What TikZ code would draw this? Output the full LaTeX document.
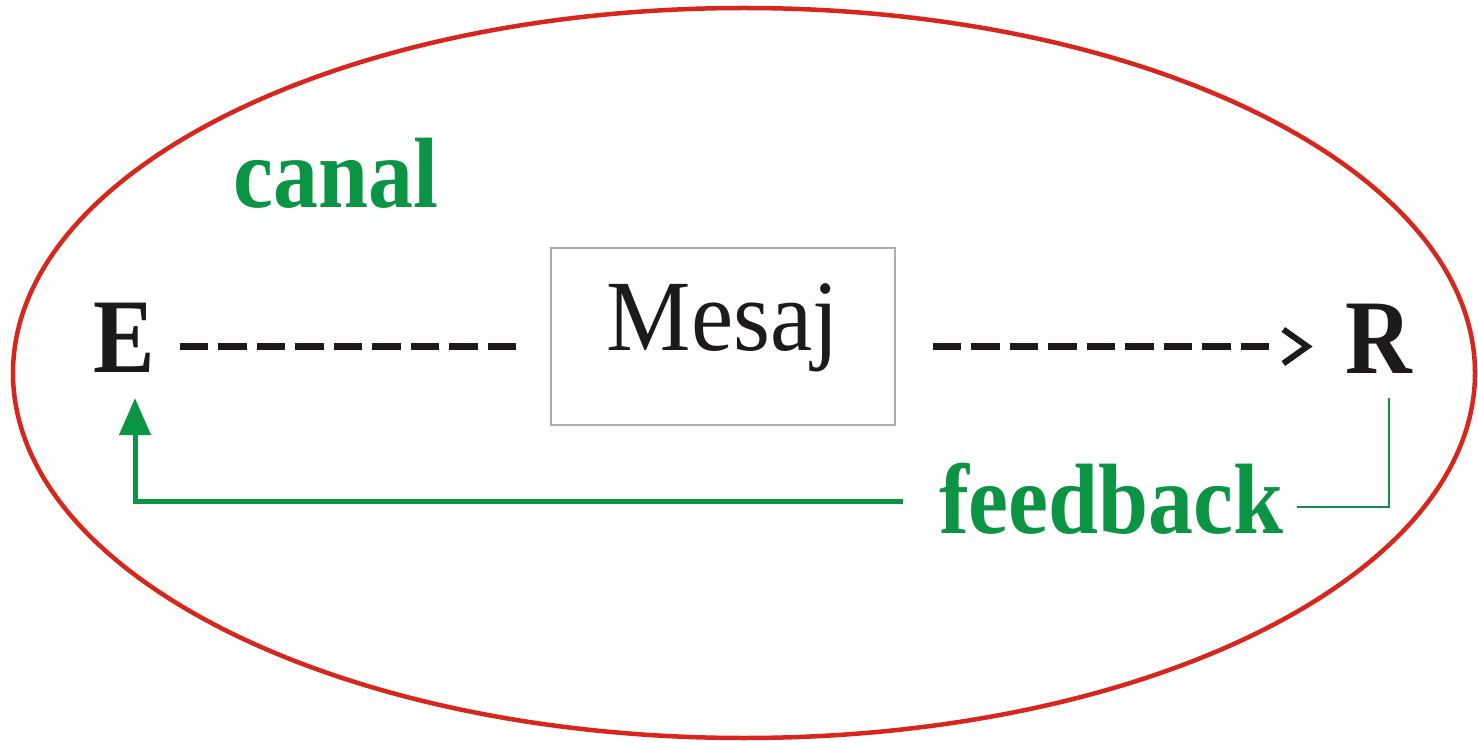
\documentclass[tikz,border=0pt]{standalone}
\usepackage{fontspec}
\setmainfont{Liberation Serif}[FakeStretch=0.94]
\newfontfamily\narrowfont{Liberation Serif}[FakeStretch=0.9]
\newfontfamily\slimfont{Liberation Serif}[FakeStretch=0.87]
\usepackage{tikz}
\usetikzlibrary{calc,positioning}
\usetikzlibrary{arrows.meta}
\definecolor{ink}{RGB}{30,26,27}
\definecolor{canalgreen}{RGB}{10,148,68}
\definecolor{ringred}{RGB}{217,38,28}
\tikzset{>={Straight Barb[length=24pt,width=34pt,line width=6pt]}}
\tikzset{block/.style = {draw=gray!65, line width=1.2pt, rectangle, inner sep=0pt,
                  minimum height=177pt, minimum width=344pt,
                  text height=70pt, text depth=43pt, text=ink,
                  font=\fontsize{101}{105}\selectfont},
        pnode/.style = {inner sep=0pt, text=ink,
                  font=\slimfont\bfseries\fontsize{106}{110}\selectfont},
        gnode/.style = {inner sep=0pt, text=canalgreen,
                  font=\narrowfont\bfseries\fontsize{100}{104}\selectfont}
    }

\begin{document}
\begin{tikzpicture}[x=1pt, y=-1pt]
          \tikzstyle{dline} = [ink, line width=7pt, dash pattern=on 28.5pt off 10pt]
          \tikzstyle{aline} = [ink, line width=7pt, dash pattern=on 28.5pt off 10pt on 28.5pt off 10pt on 28.5pt off 10pt on 28.5pt off 10pt on 28.5pt off 10pt on 28.5pt off 10pt on 28.5pt off 10pt on 28.5pt off 10pt on 28.5pt off 200pt]
          \tikzstyle{fthin} = [canalgreen, line width=2pt]
          \tikzstyle{fthick} = [canalgreen, line width=5pt]

          \useasboundingbox (0,0) rectangle (1478,743);
          \draw[ringred, line width=4.5pt] (744,373) ellipse [x radius=731pt, y radius=365pt];

          \node[pnode, anchor=base] (e) at (124.5,372) {E};
          \node[pnode, anchor=base] (r) at (1379,373) {R};
          \node[block] (mesaj) at (723,336.5) {Mesaj};
          \node[gnode, anchor=base west] (canal) at (233,208) {canal};
          \node[gnode, anchor=base, inner xsep=13pt] (feedback) at (1111.5,533) {feedback};

          % canal E -> R
          \draw[dline, shorten <=24.5pt, shorten >=33pt] ([yshift=-9pt]e.east) -- ([yshift=-9pt]e.east -| mesaj.west);
          \draw[aline, ->, shorten <=37pt, shorten >=33pt] ([yshift=-10pt]mesaj.east) -- ([yshift=-10pt]mesaj.east -| r.west);

          % feedback R -> E
          \draw[fthin] ([xshift=10pt,yshift=-25pt]r.south) |- ([yshift=-8.5pt]feedback.east);
          \draw[fthick, -{Triangle[length=37pt,width=31pt]}, shorten <=23pt] ([yshift=-3.5pt]feedback.west) -| ([xshift=10.5pt,yshift=-26pt]e.south);
        \end{tikzpicture}
\end{document}
